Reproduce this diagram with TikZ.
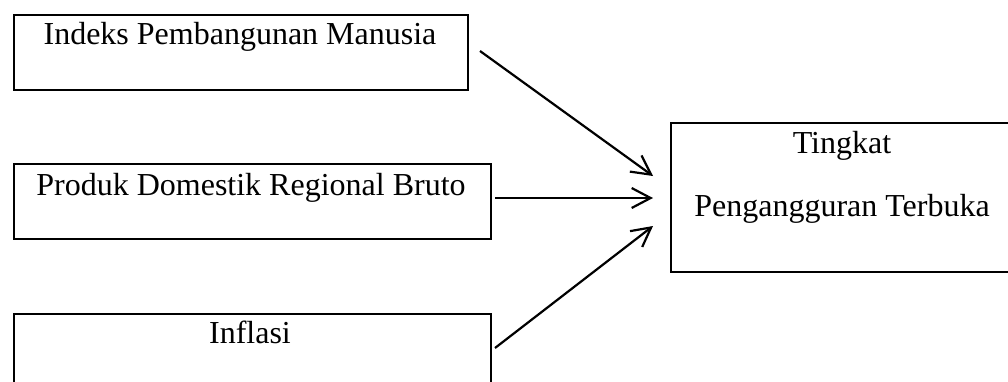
\documentclass[tikz,border=0pt]{standalone}
\usepackage{fontspec}
\setmainfont{Liberation Serif}
\usetikzlibrary{arrows.meta}
\begin{document}
\begin{tikzpicture}[x=1pt,y=-1pt,
  box/.style={draw,line width=2pt,inner sep=0pt},
  lbl/.style={anchor=base,inner sep=0pt,font=\fontsize{32}{38}\selectfont},
  conn/.style={line width=2.2pt,-{Straight Barb[length=19pt,width=20pt]}}]
\useasboundingbox (0,0) rectangle (1008,381);
\clip (0,0) rectangle (1008,381);
\node[box,minimum width=454pt,minimum height=75pt,anchor=north west] (b1) at (13,14) {};
\node[box,minimum width=477pt,minimum height=75pt,anchor=north west] (b2) at (13,163) {};
\node[box,minimum width=477pt,minimum height=90pt,anchor=north west] (b3) at (13,313) {};
\node[box,minimum width=344pt,minimum height=149pt,anchor=north west] (t) at (670,122) {};
\node[lbl] (l1) at (240,44) {Indeks Pembangunan Manusia};
\node[lbl] (l2) at (251,195) {Produk Domestik Regional Bruto};
\node[lbl] (l3) at (250,343) {Inflasi};
\node[lbl] (l4) at (842,153) {Tingkat};
\node[lbl] (l5) at (842,216) {Pengangguran Terbuka};
\coordinate (s1) at (480,51);
\coordinate (s2) at (495,198);
\coordinate (s3) at (495,348);
\coordinate (e1) at (653,176);
\coordinate (e2) at (653,198);
\coordinate (e3) at (653,226);
\draw[conn] (s1) -- (e1);
\draw[conn] (s2) -- (e2);
\draw[conn] (s3) -- (e3);
\end{tikzpicture}
\end{document}
